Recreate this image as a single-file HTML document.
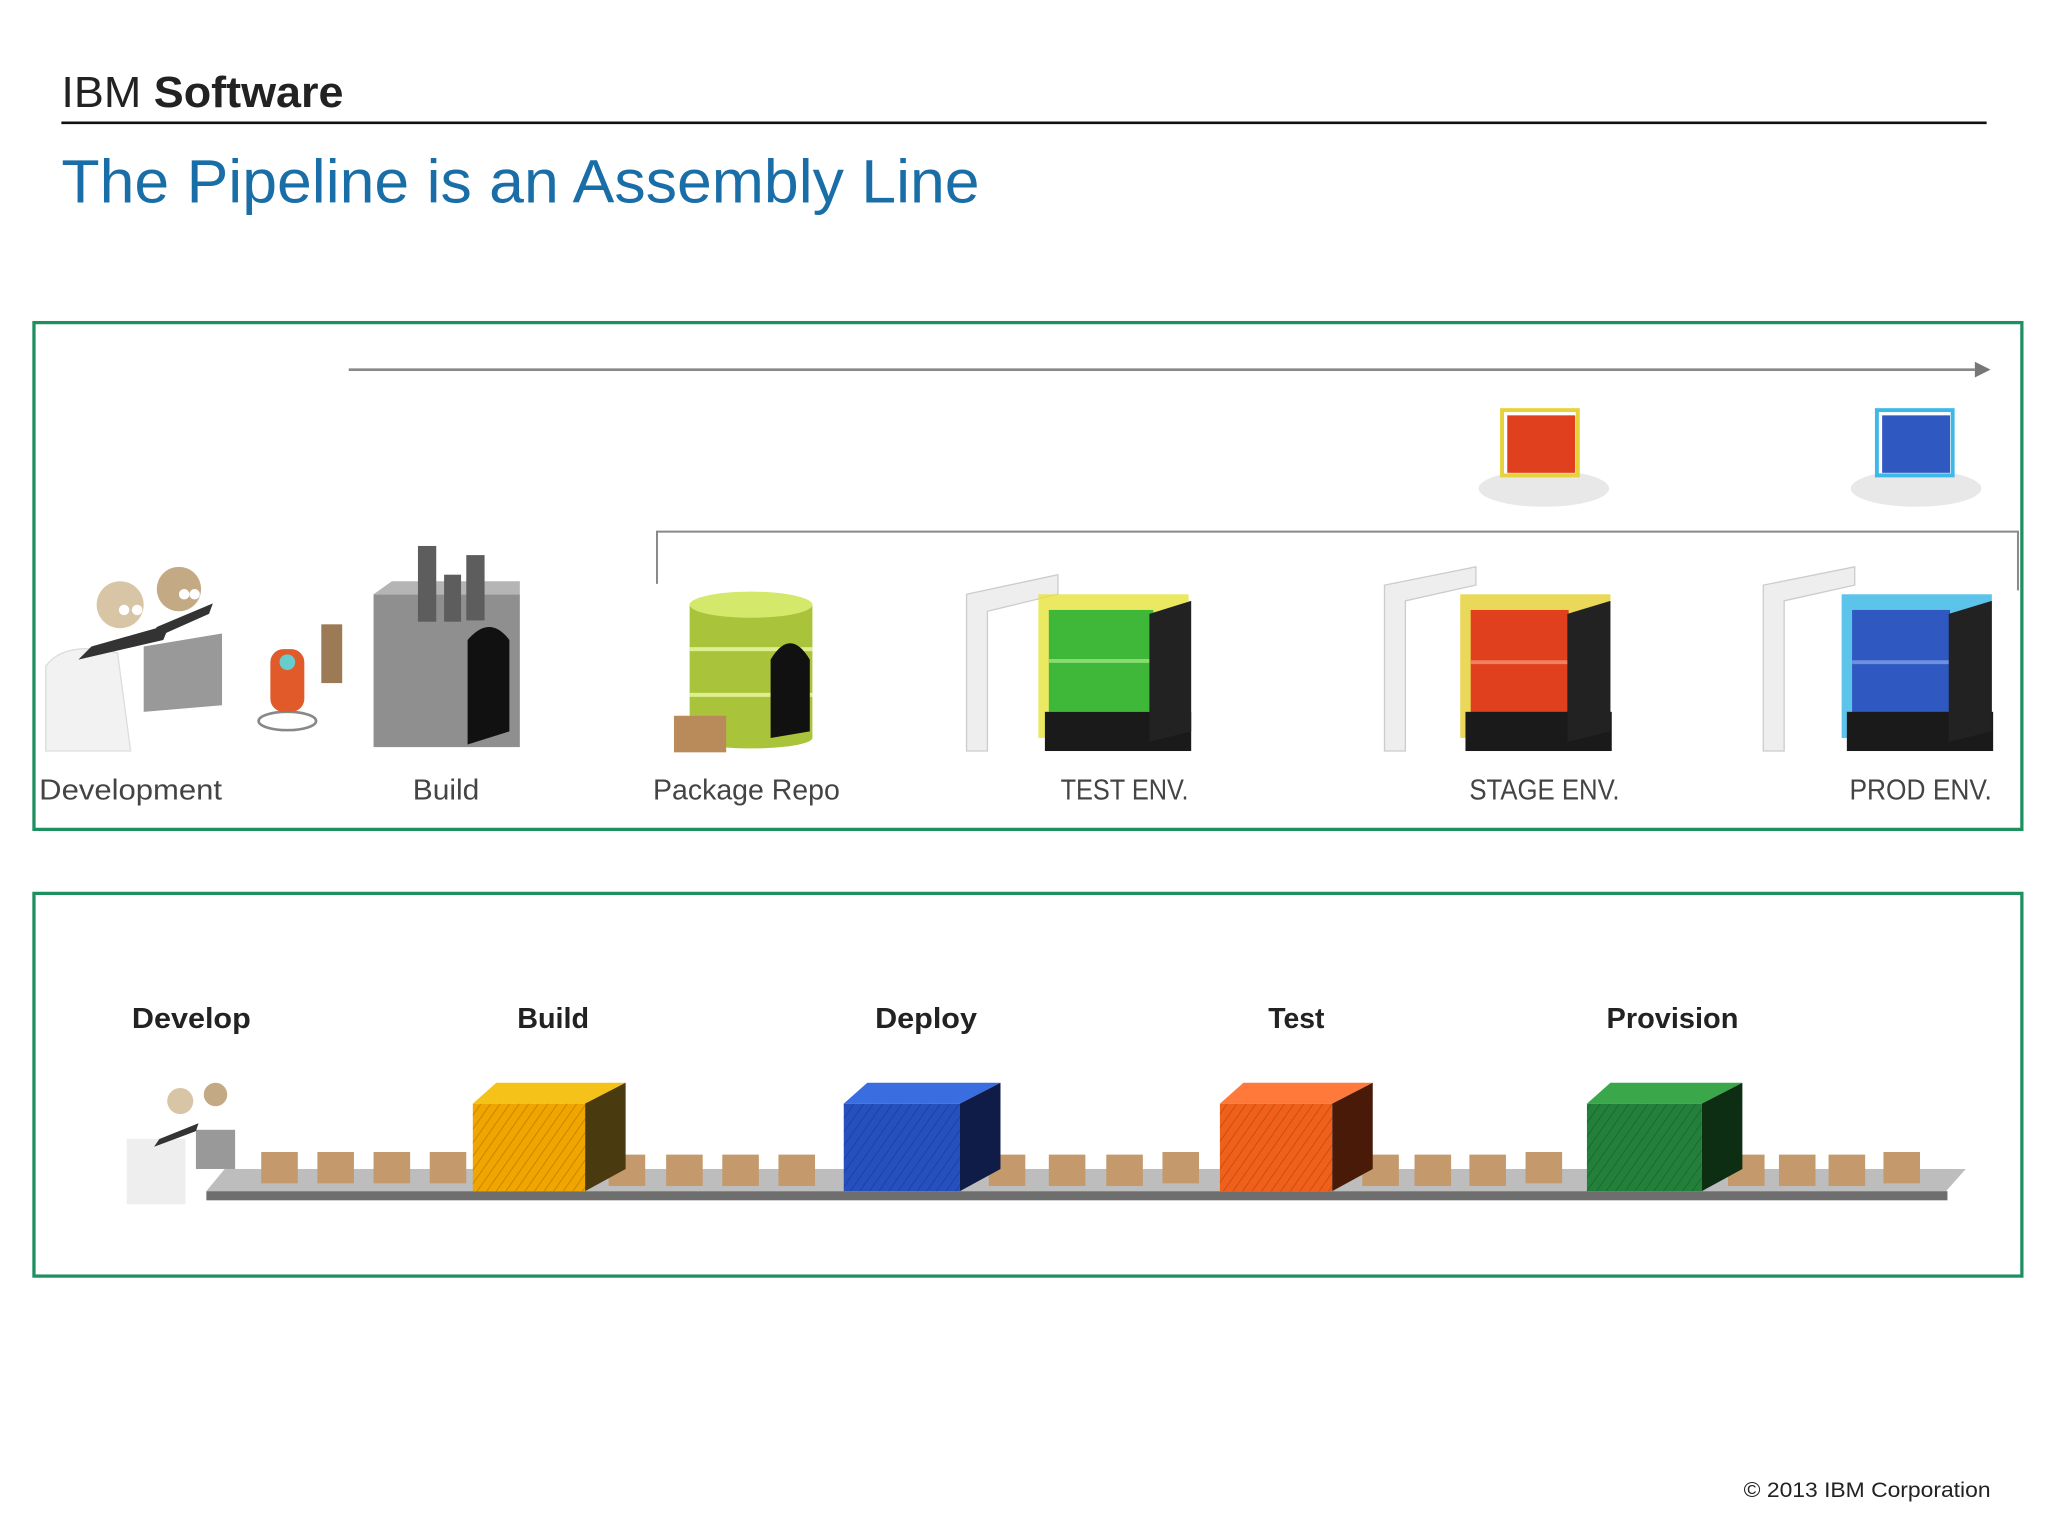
<!DOCTYPE html>
<html><head><meta charset="utf-8"><style>
html,body{margin:0;padding:0;background:#fff;}
svg{display:block;}
text{font-family:"Liberation Sans",sans-serif;}
</style></head><body>
<svg width="2048" height="1536" viewBox="0 0 1568 1176" xmlns="http://www.w3.org/2000/svg">
<defs>
<pattern id="hatch" width="6" height="6" patternUnits="userSpaceOnUse" patternTransform="rotate(35)">
<rect width="6" height="6" fill="none"/><line x1="0" y1="0" x2="0" y2="6" stroke="rgba(0,0,0,0.18)" stroke-width="1.5"/>
</pattern>
</defs>
<rect width="1568" height="1176" fill="#fff"/>
<text x="47" y="82" font-size="33" fill="#222" textLength="216" lengthAdjust="spacingAndGlyphs">IBM <tspan font-weight="bold">Software</tspan></text>
<line x1="47" y1="94" x2="1521" y2="94" stroke="#111" stroke-width="2"/>
<text x="47" y="155" font-size="47" fill="#1a6ea8" textLength="703" lengthAdjust="spacingAndGlyphs">The Pipeline is an Assembly Line</text>

<!-- Box 1 -->
<rect x="26" y="247" width="1522" height="388" fill="#fff" stroke="#1e9060" stroke-width="2.5"/>
<line x1="267" y1="283" x2="1512" y2="283" stroke="#888" stroke-width="2"/>
<polygon points="1512,277 1524,283 1512,289" fill="#777"/>
<polyline points="503,447 503,407 1545,407 1545,452" fill="none" stroke="#888" stroke-width="1.5"/>

<!-- developers -->
<path d="M35,510 Q50,490 90,500 L100,575 L35,575 Z" fill="#f2f2f2" stroke="#ddd"/>
<path d="M110,495 L170,485 L170,540 L110,545 Z" fill="#999"/>
<path d="M60,505 L125,490 L130,478 L70,495 Z" fill="#333"/>
<path d="M115,490 L160,470 L163,462 L120,480 Z" fill="#333"/>
<circle cx="92" cy="463" r="18" fill="#d8c5a5"/>
<circle cx="137" cy="451" r="17" fill="#c4aa84"/>
<circle cx="95" cy="467" r="4" fill="#fff"/><circle cx="105" cy="467" r="4" fill="#fff"/>
<circle cx="141" cy="455" r="4" fill="#fff"/><circle cx="149" cy="455" r="4" fill="#fff"/>
<!-- robot -->
<ellipse cx="220" cy="552" rx="22" ry="7" fill="none" stroke="#888" stroke-width="2"/>
<rect x="207" y="497" width="26" height="48" rx="10" fill="#e05a2a"/>
<circle cx="220" cy="507" r="6" fill="#6cc"/>
<rect x="246" y="478" width="16" height="45" fill="#9b7a55"/>
<!-- factory -->
<rect x="286" y="455" width="112" height="117" fill="#8f8f8f"/>
<polygon points="286,455 300,445 398,445 398,455" fill="#b5b5b5"/>
<path d="M358,570 L358,490 Q375,470 390,490 L390,560 Z" fill="#111"/>
<rect x="320" y="418" width="14" height="58" fill="#5d5d5d"/>
<rect x="340" y="440" width="13" height="36" fill="#5d5d5d"/>
<rect x="357" y="425" width="14" height="50" fill="#5d5d5d"/>
<!-- package repo -->
<rect x="528" y="463" width="94" height="102" fill="#a9c43a"/>
<ellipse cx="575" cy="565" rx="47" ry="8" fill="#a9c43a"/>
<ellipse cx="575" cy="463" rx="47" ry="10" fill="#d4e86b"/>
<line x1="528" y1="497" x2="622" y2="497" stroke="#dfee90" stroke-width="3"/>
<line x1="528" y1="532" x2="622" y2="532" stroke="#dfee90" stroke-width="3"/>
<path d="M590,565 L590,505 Q605,480 620,505 L620,560 Z" fill="#111"/>
<rect x="516" y="548" width="40" height="28" fill="#b98a5a"/>

<!-- TEST ENV -->
<g>
<path d="M740,575 L740,455 L810,440 L810,455 L756,468 L756,575 Z" fill="#eee" stroke="#ccc"/>
<rect x="795" y="455" width="115" height="110" fill="#e6e33b" opacity="0.8"/>
<rect x="803" y="467" width="80" height="78" fill="#3fb83a"/>
<line x1="803" y1="506" x2="883" y2="506" stroke="#88dd70" stroke-width="3"/>
<rect x="800" y="545" width="112" height="30" fill="#1a1a1a"/>
<polygon points="880,470 912,460 912,560 880,568" fill="#222"/>
</g>
<!-- STAGE -->
<g>
<path d="M1060,575 L1060,448 L1130,434 L1130,448 L1076,460 L1076,575 Z" fill="#eee" stroke="#ccc"/>
<rect x="1118" y="455" width="115" height="110" fill="#e6d23b" opacity="0.85"/>
<rect x="1126" y="467" width="75" height="80" fill="#e0401e"/>
<line x1="1126" y1="507" x2="1201" y2="507" stroke="#f08060" stroke-width="3"/>
<rect x="1122" y="545" width="112" height="30" fill="#1a1a1a"/>
<polygon points="1200,470 1233,460 1233,560 1200,568" fill="#222"/>
</g>
<!-- PROD -->
<g>
<path d="M1350,575 L1350,448 L1420,434 L1420,448 L1366,460 L1366,575 Z" fill="#eee" stroke="#ccc"/>
<rect x="1410" y="455" width="115" height="110" fill="#3fb8e8" opacity="0.85"/>
<rect x="1418" y="467" width="75" height="80" fill="#2f58c0"/>
<line x1="1418" y1="507" x2="1493" y2="507" stroke="#6f90e0" stroke-width="3"/>
<rect x="1414" y="545" width="112" height="30" fill="#1a1a1a"/>
<polygon points="1492,470 1525,460 1525,560 1492,568" fill="#222"/>
</g>
<!-- clouds -->
<ellipse cx="1182" cy="374" rx="50" ry="14" fill="#e8e8e8"/>
<rect x="1154" y="318" width="52" height="44" fill="#e0401e"/><rect x="1150" y="314" width="58" height="50" fill="none" stroke="#e6d23b" stroke-width="3"/>
<ellipse cx="1467" cy="374" rx="50" ry="14" fill="#e8e8e8"/>
<rect x="1441" y="318" width="52" height="44" fill="#2f58c0"/><rect x="1437" y="314" width="58" height="50" fill="none" stroke="#3fb8e8" stroke-width="3"/>

<g font-size="22" fill="#444">
<text x="30" y="612" textLength="140" lengthAdjust="spacingAndGlyphs">Development</text>
<text x="316" y="612" textLength="51" lengthAdjust="spacingAndGlyphs">Build</text>
<text x="500" y="612" textLength="143" lengthAdjust="spacingAndGlyphs">Package Repo</text>
<text x="812" y="612" textLength="98" lengthAdjust="spacingAndGlyphs">TEST ENV.</text>
<text x="1125" y="612" textLength="115" lengthAdjust="spacingAndGlyphs">STAGE ENV.</text>
<text x="1416" y="612" textLength="109" lengthAdjust="spacingAndGlyphs">PROD ENV.</text>
</g>

<!-- Box 2 -->
<rect x="26" y="684" width="1522" height="293" fill="#fff" stroke="#1e9060" stroke-width="2.5"/>
<g font-size="22" font-weight="bold" fill="#222">
<text x="101" y="787" textLength="91" lengthAdjust="spacingAndGlyphs">Develop</text>
<text x="396" y="787" textLength="55" lengthAdjust="spacingAndGlyphs">Build</text>
<text x="670" y="787" textLength="78" lengthAdjust="spacingAndGlyphs">Deploy</text>
<text x="971" y="787" textLength="43" lengthAdjust="spacingAndGlyphs">Test</text>
<text x="1230" y="787" textLength="101" lengthAdjust="spacingAndGlyphs">Provision</text>
</g>
<!-- small dev -->
<rect x="97" y="872" width="45" height="50" fill="#eee"/>
<rect x="150" y="865" width="30" height="30" fill="#999"/>
<path d="M118,878 L150,866 L152,860 L122,872 Z" fill="#333"/>
<circle cx="138" cy="843" r="10" fill="#d8c5a5"/><circle cx="165" cy="838" r="9" fill="#c4aa84"/>
<!-- conveyor -->
<polygon points="158,912 172,895 1505,895 1490,912" fill="#bdbdbd"/>
<rect x="158" y="912" width="1333" height="7" fill="#6e6e6e"/>
<g fill="#c49a6c">
<rect x="200" y="882" width="28" height="24"/><rect x="243" y="882" width="28" height="24"/><rect x="286" y="882" width="28" height="24"/><rect x="329" y="882" width="28" height="24"/>
<rect x="466" y="884" width="28" height="24"/><rect x="510" y="884" width="28" height="24"/><rect x="553" y="884" width="28" height="24"/><rect x="596" y="884" width="28" height="24"/>
<rect x="757" y="884" width="28" height="24"/><rect x="803" y="884" width="28" height="24"/><rect x="847" y="884" width="28" height="24"/><rect x="890" y="882" width="28" height="24"/>
<rect x="1043" y="884" width="28" height="24"/><rect x="1083" y="884" width="28" height="24"/><rect x="1125" y="884" width="28" height="24"/><rect x="1168" y="882" width="28" height="24"/>
<rect x="1323" y="884" width="28" height="24"/><rect x="1362" y="884" width="28" height="24"/><rect x="1400" y="884" width="28" height="24"/><rect x="1442" y="882" width="28" height="24"/>
</g>
<!-- cubes -->
<g>
<polygon points="362,845 380,829 479,829 462,845" fill="#f5c21a"/><rect x="362" y="845" width="86" height="67" fill="#f0a500"/><polygon points="448,845 479,829 479,895 448,912" fill="#4a3a10"/><rect x="362" y="845" width="86" height="67" fill="url(#hatch)"/>
<polygon points="646,845 664,829 766,829 735,845" fill="#3a6ee0"/><rect x="646" y="845" width="89" height="67" fill="#2650c0"/><polygon points="735,845 766,829 766,895 735,912" fill="#101c48"/><rect x="646" y="845" width="89" height="67" fill="url(#hatch)"/>
<polygon points="934,845 952,829 1051,829 1020,845" fill="#ff7a3a"/><rect x="934" y="845" width="86" height="67" fill="#f0601a"/><polygon points="1020,845 1051,829 1051,895 1020,912" fill="#4a1a08"/><rect x="934" y="845" width="86" height="67" fill="url(#hatch)"/>
<polygon points="1215,845 1233,829 1334,829 1303,845" fill="#3aa84a"/><rect x="1215" y="845" width="88" height="67" fill="#23803a"/><polygon points="1303,845 1334,829 1334,895 1303,912" fill="#0e2e14"/><rect x="1215" y="845" width="88" height="67" fill="url(#hatch)"/>
</g>

<text x="1335" y="1146" font-size="16" fill="#222" textLength="189" lengthAdjust="spacingAndGlyphs">© 2013 IBM Corporation</text>
</svg>
</body></html>
